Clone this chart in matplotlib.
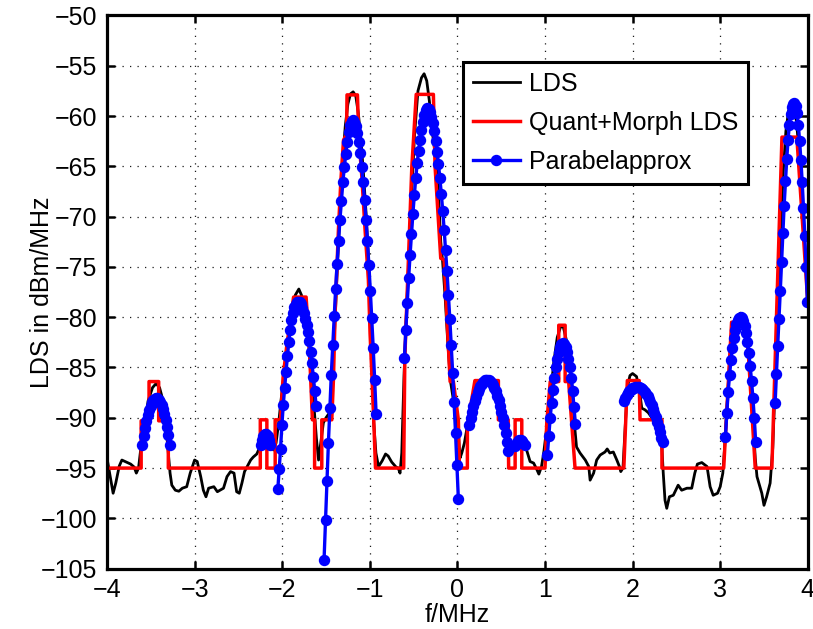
import numpy as np
import matplotlib.pyplot as plt

plt.rcParams['font.family'] = ['Liberation Sans', 'DejaVu Sans']

# LDS (black)
lds_f = [-4.00, -3.97, -3.93, -3.90, -3.86, -3.83, -3.78, -3.73, -3.69, -3.665, -3.64, -3.62,
         -3.60, -3.57, -3.53, -3.48, -3.44, -3.40, -3.36, -3.33, -3.30, -3.28, -3.26, -3.22,
         -3.18, -3.14, -3.09, -3.05, -3.00, -2.97, -2.93, -2.90, -2.87, -2.84, -2.78, -2.74,
         -2.71, -2.67, -2.63, -2.59, -2.55, -2.52, -2.49, -2.46, -2.43, -2.40, -2.36, -2.33,
         -2.29, -2.26, -2.22, -2.19, -2.16, -2.14, -2.10, -2.07, -2.04, -2.01, -1.97, -1.93,
         -1.89, -1.85, -1.81, -1.78, -1.74, -1.70, -1.67, -1.64, -1.61, -1.585, -1.56, -1.53,
         -1.50, -1.46, -1.43, -1.40, -1.37, -1.34, -1.31, -1.28, -1.25, -1.22, -1.19, -1.16,
         -1.13, -1.10, -1.07, -1.04, -1.01, -0.985, -0.97, -0.955, -0.93, -0.90, -0.86, -0.82,
         -0.79, -0.75, -0.70, -0.675, -0.655, -0.635, -0.61, -0.58, -0.55, -0.52, -0.49, -0.45,
         -0.41, -0.38, -0.35, -0.32, -0.28, -0.25, -0.22, -0.19, -0.17, -0.14, -0.11, -0.08,
         -0.05, -0.02, 0.01, 0.03, 0.05, 0.08, 0.11, 0.15, 0.20, 0.25, 0.30, 0.35,
         0.40, 0.45, 0.51, 0.55, 0.60, 0.65, 0.70, 0.75, 0.79, 0.83, 0.87, 0.91,
         0.93, 0.96, 0.985, 1.02, 1.06, 1.10, 1.14, 1.18, 1.21, 1.25, 1.28, 1.31,
         1.34, 1.36, 1.40, 1.46, 1.50, 1.515, 1.555, 1.59, 1.63, 1.685, 1.71, 1.74,
         1.78, 1.82, 1.85, 1.865, 1.89, 1.915, 1.94, 1.97, 2.00, 2.045, 2.085, 2.105,
         2.14, 2.18, 2.22, 2.26, 2.30, 2.33, 2.35, 2.37, 2.39, 2.42, 2.465, 2.52,
         2.56, 2.62, 2.675, 2.71, 2.74, 2.79, 2.85, 2.885, 2.92, 2.97, 3.00, 3.03,
         3.05, 3.08, 3.11, 3.15, 3.19, 3.23, 3.27, 3.31, 3.34, 3.37, 3.40, 3.42,
         3.475, 3.50, 3.53, 3.57, 3.60, 3.63, 3.66, 3.69, 3.72, 3.75, 3.78, 3.81,
         3.84, 3.87, 3.90, 3.93, 3.96, 4.00]
lds_p = [-94.0, -95.5, -97.5, -96.5, -94.8, -94.2, -94.4, -94.6, -94.9, -95.5, -95.0, -93.5,
         -92.0, -90.5, -88.3, -87.0, -86.6, -87.0, -88.3, -90.5, -93.5, -95.5, -96.7, -97.2,
         -97.3, -97.0, -96.85, -95.5, -94.2, -94.35, -95.85, -97.2, -97.85, -97.0, -96.85, -97.35,
         -97.2, -97.0, -95.85, -95.35, -95.5, -97.35, -97.5, -96.5, -95.35, -94.85, -94.2, -93.9,
         -93.6, -93.0, -92.0, -91.6, -92.0, -92.4, -93.2, -92.5, -90.5, -88.0, -85.3, -82.0,
         -79.5, -77.8, -77.2, -77.8, -79.8, -82.5, -85.5, -88.5, -92.0, -94.2, -92.5, -90.5,
         -90.0, -89.5, -87.0, -81.0, -75.0, -69.5, -64.5, -61.0, -58.8, -57.8, -57.6, -58.0,
         -59.8, -62.5, -66.0, -70.0, -75.0, -80.5, -85.0, -90.5, -93.5, -94.85, -94.3, -93.6,
         -93.8, -94.4, -94.9, -95.0, -95.5, -93.5, -86.0, -79.0, -73.5, -67.5, -62.0, -57.5,
         -56.2, -55.8, -56.5, -58.5, -62.0, -64.0, -67.0, -72.5, -74.3, -78.0, -82.5, -86.3,
         -88.0, -89.5, -91.5, -94.0, -93.5, -92.5, -91.0, -89.0, -87.0, -86.3, -86.0, -86.2,
         -86.8, -88.2, -90.7, -91.9, -92.9, -92.5, -92.3, -92.5, -93.2, -94.35, -94.5, -95.2,
         -95.6, -94.85, -93.5, -91.0, -88.0, -84.5, -82.0, -80.9, -81.0, -82.5, -84.3, -87.0,
         -91.0, -92.9, -93.5, -94.2, -94.85, -96.2, -95.5, -94.2, -93.7, -93.4, -93.1, -93.5,
         -93.4, -94.2, -94.85, -95.35, -95.0, -91.0, -87.0, -85.8, -85.6, -85.9, -87.7, -89.05,
         -89.2, -89.5, -90.0, -90.8, -91.5, -92.2, -95.5, -98.2, -99.0, -97.85, -97.7, -96.7,
         -97.2, -97.0, -97.0, -95.5, -94.6, -94.45, -94.85, -96.85, -97.7, -97.5, -96.85, -95.5,
         -93.0, -88.5, -84.0, -81.0, -80.0, -79.6, -80.2, -82.5, -85.5, -89.5, -94.0, -95.85,
         -97.5, -98.7, -97.85, -96.5, -93.0, -86.0, -79.0, -71.5, -65.5, -61.5, -59.5, -59.0,
         -59.2, -60.5, -63.5, -67.5, -72.0, -78.5]

# Quant+Morph LDS (red), corner points of the stepped outline
qm_f = [-4.0, -3.61, -3.61, -3.52, -3.52, -3.41, -3.41, -3.30, -3.30, -2.25, -2.25, -2.175,
        -2.175, -2.08, -2.08, -2.02, -1.99, -1.95, -1.87, -1.727, -1.69, -1.655, -1.63, -1.63,
        -1.548, -1.548, -1.434, -1.415, -1.396, -1.358, -1.33, -1.30, -1.265, -1.26, -1.141, -1.125,
        -1.091, -1.054, -1.016, -0.997, -0.977, -0.955, -0.935, -0.613, -0.60, -0.52, -0.50, -0.47,
        -0.274, -0.255, -0.19, -0.152, -0.083, -0.046, 0.011, 0.023, 0.114, 0.114, 0.20, 0.468,
        0.468, 0.58, 0.585, 0.659, 0.659, 0.735, 0.735, 1.0, 1.02, 1.06, 1.157, 1.157,
        1.23, 1.23, 1.27, 1.343, 1.90, 1.94, 2.075, 2.085, 2.335, 2.335, 3.04, 3.13,
        3.30, 3.40, 3.59, 3.705, 3.875, 4.0]
qm_p = [-95, -95, -90.3, -90.3, -86.4, -86.4, -90.3, -90.3, -95, -95, -90.2, -90.2,
        -95, -95, -90.2, -90.2, -86.0, -83.0, -78.0, -78.0, -83.0, -90.2, -90.2, -95,
        -95, -90.2, -90.2, -86.2, -79.6, -71.3, -66.4, -62.4, -61.8, -57.9, -57.9, -62.2,
        -66.0, -71.3, -76.3, -81.6, -85.6, -90.2, -95, -95, -84.0, -65.0, -62.2, -57.85,
        -57.85, -65.0, -74.15, -74.3, -86.4, -86.4, -90.2, -95, -95, -90.8, -86.3, -86.3,
        -90.2, -90.2, -95, -95, -90.2, -90.2, -95, -95, -90.5, -86.4, -86.4, -80.8,
        -80.8, -86.4, -86.4, -95, -95, -86.3, -86.3, -90.2, -90.2, -95, -95, -80.5,
        -80.5, -95, -95, -62.1, -62.1, -78.5]

# Parabelapprox (blue): one list of sample values per fitted piece, with its f range
par1_span = (-3.596, -3.283)
par1 = [-92.7, -91.8, -91.0, -90.3, -89.7, -89.2, -88.8, -88.4, -88.2, -88.1, -88.0,
        -88.0, -88.2, -88.4, -88.7, -89.1, -89.6, -90.2, -90.9, -91.7, -92.7]
par2_span = (-2.245, -2.135)
par2 = [-92.7, -92.2, -91.8, -91.6, -91.6, -91.8, -92.2, -92.7]
par3_span = (-2.050, -1.613)
par3 = [-97.1, -95.1, -93.1, -90.7, -88.7, -87.0, -85.4, -83.9, -82.5, -81.3, -80.3, -79.6,
        -79.0, -78.7, -78.5, -78.45, -78.5, -78.7, -79.1, -79.6, -80.2, -80.8, -81.5, -82.4,
        -83.5, -84.6, -85.9, -87.3, -88.8]
par4_span = (-1.522, -0.928)
par4 = [-104.1, -100.2, -96.3, -92.5, -89.0, -85.7, -82.8, -79.9, -77.2, -74.7, -72.4, -70.3,
        -68.4, -66.6, -65.1, -63.8, -62.6, -61.6, -60.9, -60.5, -60.4, -60.6, -61.0, -61.65,
        -62.55, -63.7, -65.05, -66.6, -68.35, -70.3, -72.45, -74.8, -77.35, -80.1, -83.05, -86.2,
        -89.6]
par5_span = (-0.605, 0.011)
par5 = [-84.1, -81.3, -78.6, -76.1, -73.8, -71.7, -69.7, -67.85, -66.2, -64.7, -63.45, -62.4,
        -61.4, -60.55, -59.9, -59.45, -59.25, -59.35, -59.6, -60.05, -60.7, -61.5, -62.45, -63.55,
        -64.8, -66.2, -67.75, -69.45, -71.3, -73.3, -75.45, -77.75, -80.2, -82.8, -85.55, -88.45,
        -91.5, -94.7, -98.05]
par6_span = (0.135, 0.583)
par6 = [-90.74, -90.06, -89.43, -88.86, -88.35, -87.89, -87.48, -87.13, -86.84, -86.60, -86.42,
        -86.29, -86.22, -86.20, -86.24, -86.35, -86.51, -86.74, -87.03, -87.38, -87.79, -88.26,
        -88.79, -89.39, -90.04, -90.76, -91.54, -92.38, -93.29]
par7_span = (0.66, 0.77)
par7 = [-92.8, -92.5, -92.3, -92.2, -92.2, -92.3, -92.5, -92.7]
par8_span = (1.027, 1.347)
par8 = [-93.7, -91.8, -90.05, -88.5, -87.2, -86.0, -85.0, -84.2, -83.5, -83.0, -82.7, -82.6,
        -82.7, -83.0, -83.5, -84.2, -85.0, -86.0, -87.3, -88.9, -90.6]
par9_span = (1.900, 2.345)
par9 = [-88.30, -88.02, -87.76, -87.54, -87.36, -87.20, -87.08, -86.99, -86.93, -86.90, -86.91,
        -86.95, -87.02, -87.12, -87.26, -87.42, -87.62, -87.86, -88.12, -88.42, -88.75, -89.11,
        -89.51, -89.93, -90.39, -90.88, -91.41, -91.96, -92.4]
par10_span = (3.06, 3.405)
par10 = [-91.9, -89.5, -87.4, -85.7, -84.3, -83.1, -82.1, -81.3, -80.7, -80.3, -80.05, -79.95,
         -80.05, -80.35, -80.85, -81.55, -82.45, -83.55, -84.85, -86.35, -88.05, -90.0, -92.45]
par11_span = (3.627, 3.995)
par11 = [-88.55, -85.6, -82.85, -80.2, -77.4, -74.5, -71.6, -68.9, -66.5, -64.3, -62.4, -60.9,
         -59.8, -59.1, -58.8, -58.7, -59.0, -59.7, -60.9, -62.5, -64.4, -66.6, -69.1, -71.9,
         -75.0, -78.5]

pieces = [(par1_span, par1), (par2_span, par2), (par3_span, par3), (par4_span, par4),
          (par5_span, par5), (par6_span, par6), (par7_span, par7), (par8_span, par8),
          (par9_span, par9), (par10_span, par10), (par11_span, par11)]

# join the pieces into one line, NaN breaks between them
par_f, par_p = [], []
for (f0, f1), vals in pieces:
    par_f += list(np.linspace(f0, f1, len(vals))) + [np.nan]
    par_p += list(vals) + [np.nan]

fig = plt.figure(figsize=(8.13, 6.29), dpi=100)
ax = fig.add_axes([0.1316, 0.0959, 0.862, 0.8796])

ax.plot(lds_f, lds_p, color='k', lw=2.0, label='LDS')
ax.plot(qm_f, qm_p, color='r', lw=2.5, label='Quant+Morph LDS')
ax.plot(par_f, par_p, color='b', lw=2.4, marker='o', ms=7.2, label='Parabelapprox')

ax.set_xlim(-4, 4)
ax.set_ylim(-105, -50)
ax.set_xticks(range(-4, 5))
ax.set_yticks(range(-105, -49, 5))
ax.grid(True, color='0.1', linestyle=(0, (1, 5)), lw=0.9)
ax.tick_params(direction='in', length=6, width=1.8, top=True, right=True,
               labelsize=18, pad=7)
for s in ax.spines.values():
    s.set_linewidth(2.3)

ax.set_xlabel('f/MHz', fontsize=18)
ax.set_ylabel('LDS in dBm/MHz', fontsize=18)
ax.xaxis.set_label_coords(0.5, -0.062)
ax.yaxis.set_label_coords(-0.075, 0.5)

leg = ax.legend(loc='upper left', bbox_to_anchor=(0.5076, 0.9158), fontsize=18,
                fancybox=False, edgecolor='k', framealpha=1, borderaxespad=0,
                handlelength=1.9, handletextpad=0.35, labelspacing=0.6,
                borderpad=0.4, numpoints=1)
leg.get_frame().set_linewidth(2.2)

fig.savefig('out.png', dpi=100)
